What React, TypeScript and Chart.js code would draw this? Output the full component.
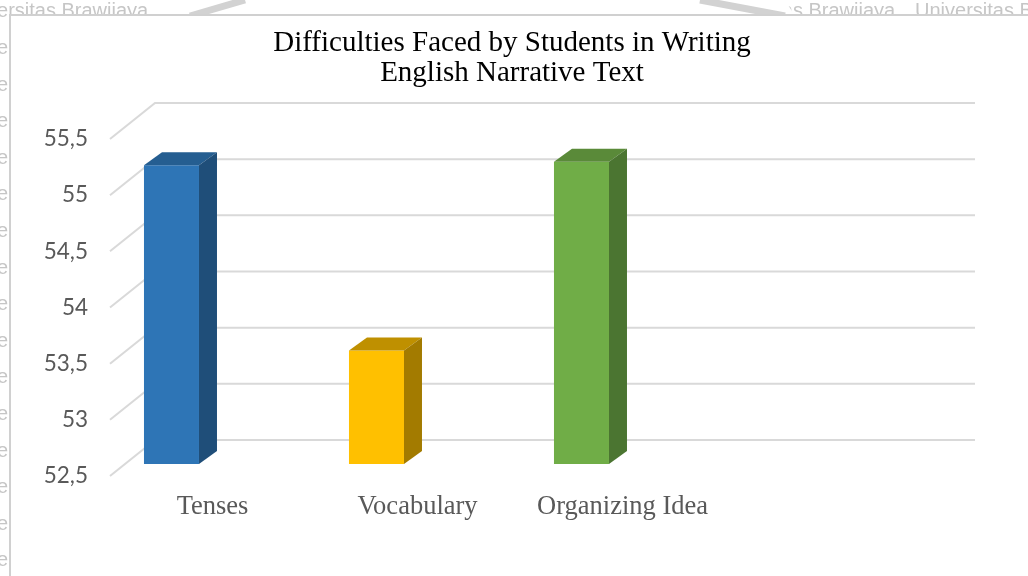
import React, { useEffect, useRef } from 'react';
import { Chart, registerables } from 'chart.js';

Chart.register(...registerables);

// ---- data ----
const categories = ['Tenses', 'Vocabulary', 'Organizing Idea', ''];
const scores: (number | null)[] = [55.16, 53.51, 55.19, null];
const emptySeries: (number | null)[] = [null, null, null, null];
const yTicks = [52.5, 53, 53.5, 54, 54.5, 55, 55.5];
const chartTitle = ['Difficulties Faced by Students in Writing', 'English Narrative Text'];

// ---- styles ----
const frontColors = ['#2E75B6', '#FFC000', '#70AD47', '#2E75B6'];
const topColors = ['#255E91', '#BF9000', '#5A8A39', '#255E91'];
const sideColors = ['#1F4E79', '#A37B00', '#4B7531', '#1F4E79'];

const BAR_DEPTH = { dx: 18, dy: -13 };
const WALL_BACK = { dx: 30, dy: -24 };
const WALL_FRONT = { dx: -15, dy: 12 };

const backgroundPlugin = {
  id: 'bgWatermark',
  beforeDraw(chart: any) {
    const { ctx, width, height } = chart;
    ctx.save();
    ctx.fillStyle = '#ffffff';
    ctx.fillRect(0, 0, width, height);
    ctx.fillStyle = '#c6c6c6';
    ctx.font = '20px "Liberation Sans"';
    ctx.textBaseline = 'alphabetic';
    ctx.fillText('Universitas Brawijaya', -43, 17);
    ctx.fillText('Universitas Brawijaya', 704, 17);
    ctx.fillText('Universitas Brawijaya', 915, 17);
    for (let k = 0; k < 15; k++) {
      ctx.fillText('Universitas', -43, 54 + k * 36.6);
    }
    // logo area (covers part of the watermark text)
    ctx.fillStyle = '#ffffff';
    ctx.beginPath();
    ctx.moveTo(170, 0);
    ctx.lineTo(260, 0);
    ctx.lineTo(240, 16);
    ctx.lineTo(165, 16);
    ctx.closePath();
    ctx.fill();
    ctx.beginPath();
    ctx.moveTo(690, 0);
    ctx.lineTo(785, 0);
    ctx.lineTo(795, 16);
    ctx.lineTo(700, 16);
    ctx.closePath();
    ctx.fill();
    ctx.strokeStyle = '#d2d2d2';
    ctx.lineWidth = 7;
    ctx.beginPath();
    ctx.moveTo(190, 16);
    ctx.lineTo(245, 0);
    ctx.stroke();
    ctx.beginPath();
    ctx.moveTo(700, 0);
    ctx.lineTo(785, 16);
    ctx.stroke();
    // chart frame
    ctx.fillStyle = '#ffffff';
    ctx.fillRect(10, 15, width - 10, height - 15);
    ctx.strokeStyle = '#d0d0d0';
    ctx.lineWidth = 2;
    ctx.beginPath();
    ctx.moveTo(10, height);
    ctx.lineTo(10, 15);
    ctx.lineTo(width, 15);
    ctx.stroke();
    ctx.restore();
  },
};

const wallPlugin = {
  id: 'walls3d',
  beforeDatasetsDraw(chart: any) {
    const { ctx, chartArea, scales } = chart;
    const ys = scales.y;
    ctx.save();
    ctx.strokeStyle = '#d9d9d9';
    ctx.lineWidth = 2;
    for (const v of yTicks) {
      const py = ys.getPixelForValue(v);
      ctx.beginPath();
      ctx.moveTo(chartArea.left + WALL_FRONT.dx, py + WALL_FRONT.dy);
      ctx.lineTo(chartArea.left + WALL_BACK.dx, py + WALL_BACK.dy);
      ctx.lineTo(chartArea.right + WALL_BACK.dx, py + WALL_BACK.dy);
      ctx.stroke();
    }
    ctx.restore();
  },
  afterDatasetsDraw(chart: any) {
    const { ctx } = chart;
    const meta = chart.getDatasetMeta(0);
    ctx.save();
    meta.data.forEach((bar: any, i: number) => {
      if (scores[i] == null) return;
      const { x, y, base, width } = bar.getProps(['x', 'y', 'base', 'width'], true);
      const l = x - width / 2;
      const r = x + width / 2;
      const { dx, dy } = BAR_DEPTH;
      ctx.fillStyle = topColors[i];
      ctx.beginPath();
      ctx.moveTo(l, y);
      ctx.lineTo(l + dx, y + dy);
      ctx.lineTo(r + dx, y + dy);
      ctx.lineTo(r, y);
      ctx.closePath();
      ctx.fill();
      ctx.fillStyle = sideColors[i];
      ctx.beginPath();
      ctx.moveTo(r, y);
      ctx.lineTo(r + dx, y + dy);
      ctx.lineTo(r + dx, base + dy);
      ctx.lineTo(r, base);
      ctx.closePath();
      ctx.fill();
    });
    ctx.restore();
  },
};

export default function App() {
  const canvasRef = useRef<HTMLCanvasElement | null>(null);

  useEffect(() => {
    document.body.style.margin = '0';
    const canvas = canvasRef.current;
    if (!canvas) return;
    const chart = new Chart(canvas, {
      type: 'bar',
      data: {
        labels: categories,
        datasets: [
          { data: scores as any, base: yTicks[0], backgroundColor: frontColors, borderWidth: 0 } as any,
          { data: emptySeries as any, base: yTicks[0], backgroundColor: frontColors, borderWidth: 0 } as any,
        ],
      },
      options: {
        responsive: false,
        animation: false,
        datasets: { bar: { categoryPercentage: 1.093, barPercentage: 0.491 } } as any,
        layout: { padding: { left: 0, right: 4, top: 0, bottom: 0 } },
        plugins: {
          legend: { display: false },
          tooltip: { enabled: false },
          title: {
            display: true,
            text: chartTitle,
            color: '#000000',
            font: { family: '"Liberation Serif"', size: 29, weight: 'normal', lineHeight: 30 / 29 },
            padding: { top: 28, bottom: 39 },
          },
        },
        scales: {
          x: {
            type: 'category',
            grid: { display: false, drawTicks: false },
            border: { display: false },
            ticks: {
              color: '#595959',
              font: { family: '"Liberation Serif"', size: 26.5 },
              padding: 27,
              labelOffset: -15,
              maxRotation: 0,
              autoSkip: false,
            },
            afterFit: (s: any) => {
              s.height = 112;
            },
          },
          y: {
            min: 52.5,
            max: 55.5,
            grid: { display: false, drawTicks: false },
            border: { display: false },
            ticks: {
              stepSize: 0.5,
              color: '#595959',
              font: { family: 'Lato', size: 22.5 },
              padding: 37,
              labelOffset: 12,
              callback: (v: any) => String(v).replace('.', ','),
            },
            afterFit: (s: any) => {
              s.width = 125;
            },
          },
          yR: {
            type: 'linear',
            position: 'right',
            display: true,
            grid: { display: false, drawTicks: false },
            border: { display: false },
            ticks: { display: false },
            afterFit: (s: any) => {
              s.width = 79;
            },
          },
        },
      },
      plugins: [backgroundPlugin, wallPlugin],
    });
    return () => chart.destroy();
  }, []);

  return (
    <div style={{ width: 1028, height: 576 }}>
      <canvas ref={canvasRef} width={1028} height={576} style={{ display: 'block' }} />
    </div>
  );
}
